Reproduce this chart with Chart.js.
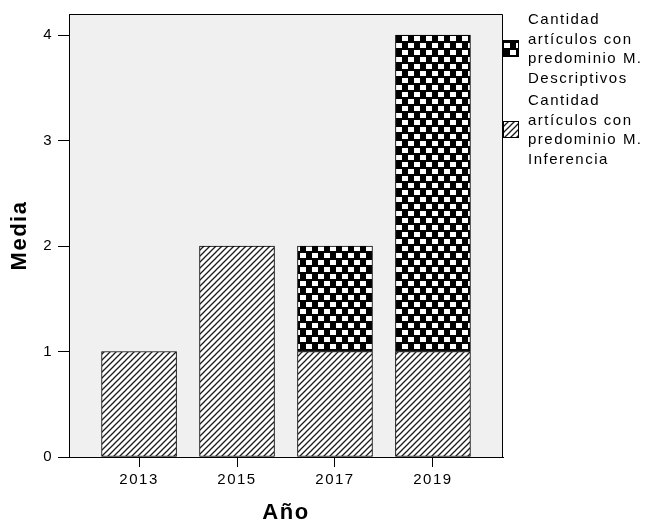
<!DOCTYPE html>
<html>
<head>
<meta charset="utf-8">
<script src="https://cdn.jsdelivr.net/npm/chart.js@4/dist/chart.umd.min.js"></script>
<style>
  body { margin: 0; background: #fff; }
</style>
</head>
<body>
<canvas id="myChart" width="645" height="527"></canvas>
<script>
var years = [2013, 2015, 2017, 2019];
var inferencia = [1, 2, 1, 1];
var descriptivos = [0, 0, 1, 3];
var yTicks = [0, 1, 2, 3, 4];
var nameInferencia = ["Cantidad", "artículos con", "predominio M.", "Inferencia"];
var nameDescriptivos = ["Cantidad", "artículos con", "predominio M.", "Descriptivos"];

var fam = "'Liberation Sans', Arial, sans-serif";

function hatchPattern() {
  var c = document.createElement("canvas");
  c.width = 6; c.height = 6;
  var g = c.getContext("2d");
  g.fillStyle = "#fff";
  g.fillRect(0, 0, 6, 6);
  g.strokeStyle = "#1a1a1a";
  g.lineWidth = 1.3;
  g.beginPath();
  g.moveTo(-1, 7); g.lineTo(7, -1);
  g.moveTo(-4, 4); g.lineTo(4, -4);
  g.moveTo(2, 10); g.lineTo(10, 2);
  g.stroke();
  return c.getContext("2d").createPattern(c, "repeat");
}

function checkerPattern() {
  var c = document.createElement("canvas");
  c.width = 12; c.height = 14;
  var g = c.getContext("2d");
  g.fillStyle = "#000";
  g.fillRect(0, 0, 12, 14);
  g.fillStyle = "#fff";
  g.fillRect(0, 1, 6, 5);
  g.fillRect(6, 8, 6, 5);
  return c.getContext("2d").createPattern(c, "repeat");
}

var hatch = hatchPattern();
var checker = checkerPattern();

function points(vals) {
  return years.map(function (y, i) {
    return { x: y, y: vals[i] === 0 ? null : vals[i] };
  });
}

// gray plot panel, frame and the legend on the right
var spssLook = {
  id: "spssLook",
  beforeDraw: function (chart) {
    var ctx = chart.ctx, a = chart.chartArea;
    ctx.letterSpacing = "1.5px";
    ctx.save();
    ctx.fillStyle = "#f0f0f0";
    ctx.fillRect(a.left, a.top, a.right - a.left, a.bottom - a.top);
    ctx.restore();
  },
  afterDraw: function (chart) {
    var ctx = chart.ctx, a = chart.chartArea;
    ctx.save();
    ctx.strokeStyle = "#000";
    ctx.lineWidth = 1;
    ctx.beginPath();
    ctx.moveTo(a.left, a.top + 0.5);
    ctx.lineTo(a.right - 0.5, a.top + 0.5);
    ctx.lineTo(a.right - 0.5, a.bottom);
    ctx.stroke();

    var items = [
      { lines: nameDescriptivos, fill: checker },
      { lines: nameInferencia, fill: hatch }
    ];
    ctx.font = "15px " + fam;
    ctx.letterSpacing = "1.5px";
    ctx.textBaseline = "middle";
    ctx.textAlign = "left";
    var y0 = 20, lh = 19.5;
    items.forEach(function (it) {
      var bx = a.right, by = y0 + 20;
      ctx.fillStyle = it.fill;
      ctx.fillRect(bx, by, 15, 16);
      ctx.strokeStyle = "#000";
      ctx.strokeRect(bx + 0.5, by + 0.5, 15, 16);
      ctx.fillStyle = "#000";
      it.lines.forEach(function (t, k) {
        ctx.fillText(t, a.right + 25, y0 + k * lh);
      });
      y0 += it.lines.length * lh + 3;
    });
    ctx.restore();
  }
};

new Chart("myChart", {
  type: "bar",
  data: {
    datasets: [{
      label: nameInferencia.join(" "),
      data: points(inferencia),
      backgroundColor: hatch,
      borderColor: "#000",
      borderWidth: 1,
      borderSkipped: false,
      barThickness: 75
    }, {
      label: nameDescriptivos.join(" "),
      data: points(descriptivos),
      backgroundColor: checker,
      borderColor: "#000",
      borderWidth: 1,
      borderSkipped: false,
      barThickness: 75
    }]
  },
  options: {
    responsive: false,
    animation: false,
    layout: { padding: { left: 0, right: 142, top: 10, bottom: 0 } },
    plugins: {
      legend: { display: false },
      tooltip: { enabled: false }
    },
    scales: {
      x: {
        type: "linear",
        stacked: true,
        offset: false,
        min: 2011.57,
        max: 2020.43,
        afterBuildTicks: function (s) { s.ticks = years.map(function (v) { return { value: v }; }); },
        afterFit: function (s) { s.height = 70; },
        grid: { display: true, drawOnChartArea: false, offset: false, tickLength: 10, color: "#000" },
        border: { display: true, color: "#000", width: 1 },
        ticks: {
          padding: 4,
          color: "#000",
          font: { family: fam, size: 15 },
          callback: function (v) { return String(v); }
        },
        title: {
          display: true,
          text: "Año",
          color: "#000",
          font: { family: fam, size: 22, weight: "bold" },
          padding: { top: 0, bottom: 1 }
        }
      },
      y: {
        stacked: true,
        min: 0,
        max: 4.2,
        afterBuildTicks: function (s) { s.ticks = yTicks.map(function (v) { return { value: v }; }); },
        afterFit: function (s) { s.width = 69; },
        grid: { display: true, drawOnChartArea: false, tickLength: 11, color: "#000" },
        border: { display: true, color: "#000", width: 1 },
        ticks: {
          padding: 5,
          color: "#000",
          font: { family: fam, size: 15 }
        },
        title: {
          display: true,
          text: "Media",
          color: "#000",
          font: { family: fam, size: 22, weight: "bold" },
          padding: { top: 7, bottom: 0 }
        }
      }
    }
  },
  plugins: [spssLook]
});
</script>
</body>
</html>
